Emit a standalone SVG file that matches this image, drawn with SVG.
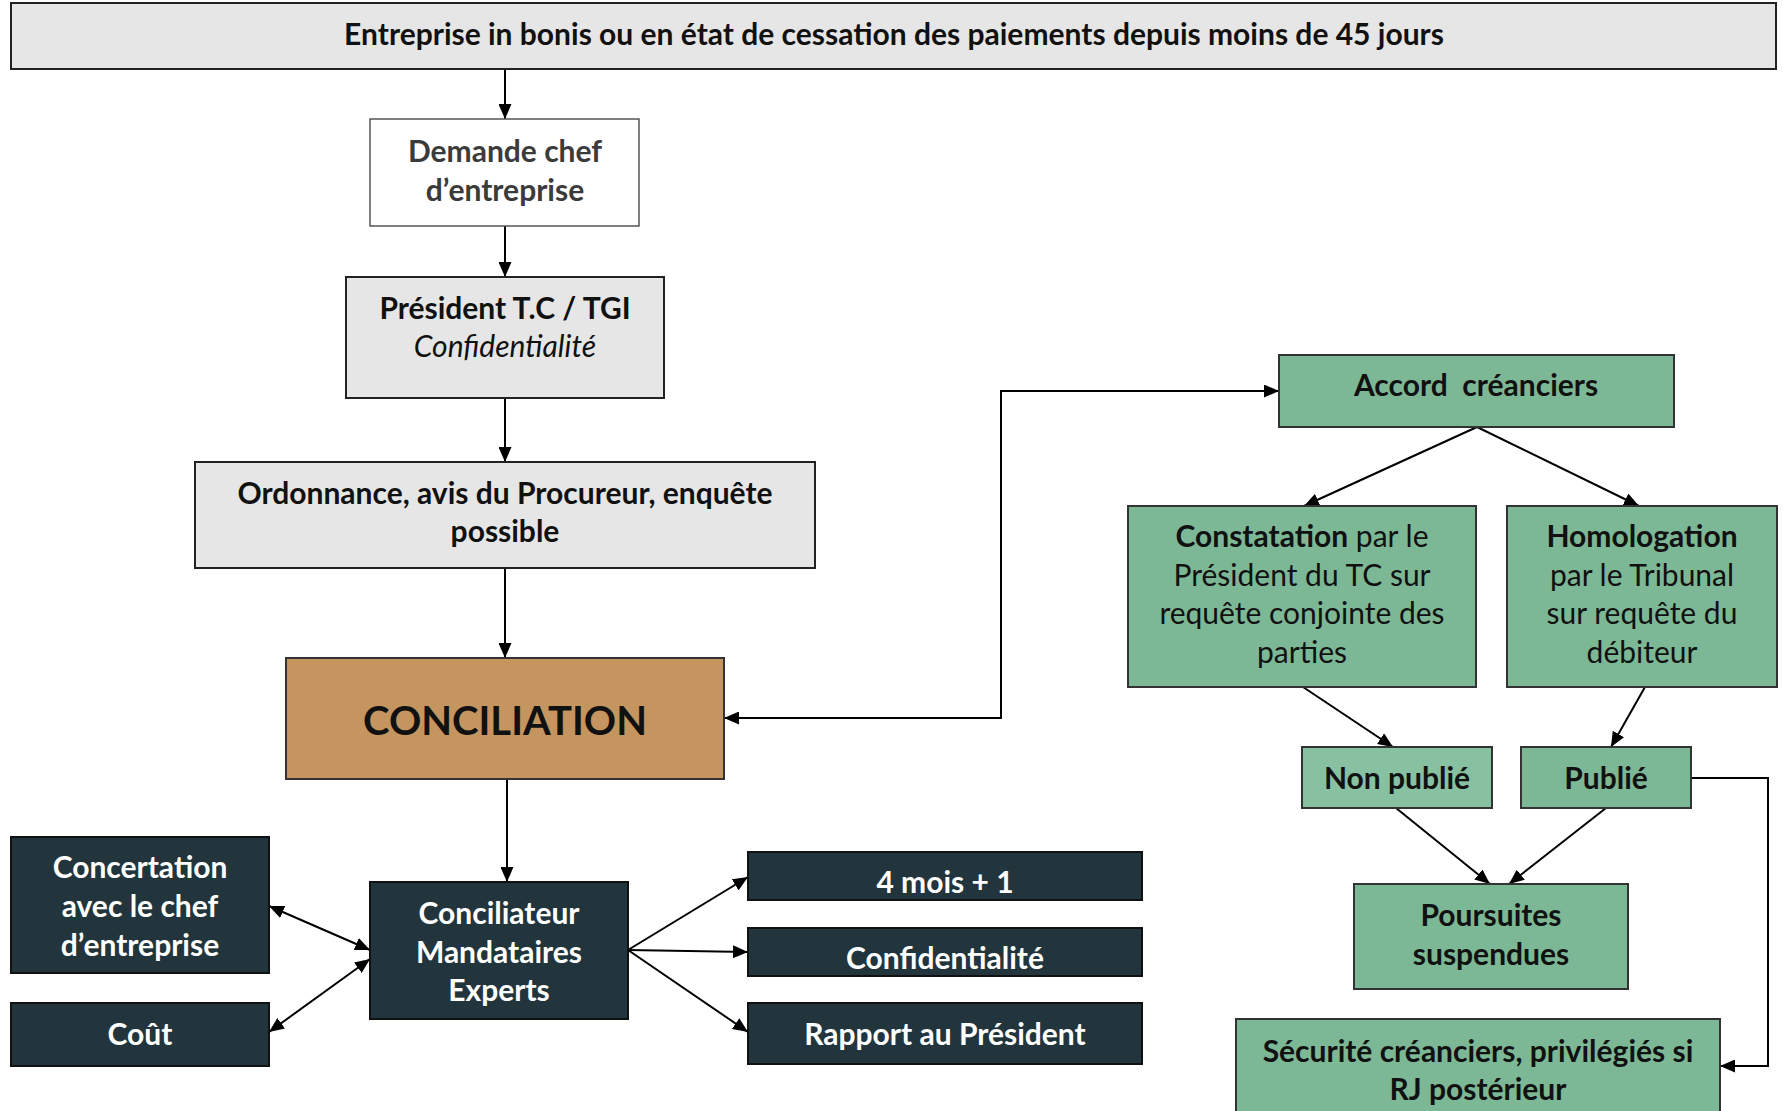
<svg xmlns="http://www.w3.org/2000/svg" width="1783" height="1111" viewBox="0 0 1783 1111">
  <style>
    text { font-family: Lato, "Open Sans", "Liberation Sans", sans-serif; text-anchor: middle; dominant-baseline: central; }
    .b { font-weight: 700; }
    .r { font-weight: 400; }
    .t28 { font-size: 30px; }
    .grey { fill: #e6e6e6; stroke: #222; stroke-width: 2; }
    .plain { fill: #ffffff; stroke: #555; stroke-width: 1.5; }
    .brown { fill: #c4955e; stroke: #333; stroke-width: 2; }
    .dark { fill: #22353d; stroke: #111; stroke-width: 2; }
    .green { fill: #7db896; stroke: #333; stroke-width: 2; }
    .lgreen { fill: #88c0a2; stroke: #333; stroke-width: 2; }
    .ink { fill: #111; }
    .white { fill: #ffffff; }
    .edge { fill: none; stroke: #000; stroke-width: 2; }
  </style>
  <defs>
    <marker id="arrow" viewBox="0 0 15 13" refX="15" refY="6.5" markerWidth="15" markerHeight="13" markerUnits="userSpaceOnUse" orient="auto-start-reverse">
      <path d="M0,0 L15,6.5 L0,13 z" fill="#000"/>
    </marker>
  </defs>

  <!-- connectors -->
  <g id="connectors">
    <path class="edge" d="M505,69 V119" marker-end="url(#arrow)"/>
    <path class="edge" d="M505,226 V277" marker-end="url(#arrow)"/>
    <path class="edge" d="M505,398 V462" marker-end="url(#arrow)"/>
    <path class="edge" d="M505,568 V658" marker-end="url(#arrow)"/>
    <path class="edge" d="M507,779 V882" marker-end="url(#arrow)"/>
    <path class="edge" d="M1279,391 H1001 V718 H724" marker-start="url(#arrow)" marker-end="url(#arrow)"/>
    <path class="edge" d="M1477,427 L1304,506" marker-end="url(#arrow)"/>
    <path class="edge" d="M1477,427 L1639,506" marker-end="url(#arrow)"/>
    <path class="edge" d="M1303,687 L1393,747" marker-end="url(#arrow)"/>
    <path class="edge" d="M1645,687 L1611,747" marker-end="url(#arrow)"/>
    <path class="edge" d="M1396,808 L1490,884" marker-end="url(#arrow)"/>
    <path class="edge" d="M1606,808 L1509,884" marker-end="url(#arrow)"/>
    <path class="edge" d="M1691,778 H1768 V1066 H1720" marker-end="url(#arrow)"/>
    <path class="edge" d="M269,906 L370,950" marker-start="url(#arrow)" marker-end="url(#arrow)"/>
    <path class="edge" d="M269,1032 L370,959" marker-start="url(#arrow)" marker-end="url(#arrow)"/>
    <path class="edge" d="M628,950 L748,877" marker-end="url(#arrow)"/>
    <path class="edge" d="M628,950 L748,952" marker-end="url(#arrow)"/>
    <path class="edge" d="M628,950 L748,1032" marker-end="url(#arrow)"/>
  </g>

  <g id="entreprise">
    <rect class="grey" x="11" y="3" width="1765" height="66"/>
    <text class="b ink" x="894" y="33" font-size="30">Entreprise in bonis ou en état de cessation des paiements depuis moins de 45 jours</text>
  </g>

  <g id="demande">
    <rect class="plain" x="370" y="119" width="269" height="107"/>
    <text class="b t28" fill="#3b3b3b" x="505" y="150">Demande chef</text>
    <text class="b t28" fill="#3b3b3b" x="505" y="189">d’entreprise</text>
  </g>

  <g id="president">
    <rect class="grey" x="346" y="277" width="318" height="121"/>
    <text class="b t28 ink" x="505" y="307">Président T.C / TGI</text>
    <text class="r t28 ink" x="505" y="345" font-style="italic">Confidentialité</text>
  </g>

  <g id="ordonnance">
    <rect class="grey" x="195" y="462" width="620" height="106"/>
    <text class="b t28 ink" x="505" y="492">Ordonnance, avis du Procureur, enquête</text>
    <text class="b t28 ink" x="505" y="530">possible</text>
  </g>

  <g id="conciliation">
    <rect class="brown" x="286" y="658" width="438" height="121"/>
    <text class="b ink" x="505" y="720" font-size="40">CONCILIATION</text>
  </g>

  <g id="conciliateur">
    <rect class="dark" x="370" y="882" width="258" height="137"/>
    <text class="b t28 white" x="499" y="912">Conciliateur</text>
    <text class="b t28 white" x="499" y="951">Mandataires</text>
    <text class="b t28 white" x="499" y="989">Experts</text>
  </g>

  <g id="concertation">
    <rect class="dark" x="11" y="837" width="258" height="136"/>
    <text class="b t28 white" x="140" y="866">Concertation</text>
    <text class="b t28 white" x="140" y="905">avec le chef</text>
    <text class="b t28 white" x="140" y="944">d’entreprise</text>
  </g>

  <g id="cout">
    <rect class="dark" x="11" y="1003" width="258" height="63"/>
    <text class="b t28 white" x="140" y="1033">Coût</text>
  </g>

  <g id="delai">
    <rect class="dark" x="748" y="852" width="394" height="48"/>
    <text class="b t28 white" x="945" y="881">4 mois + 1</text>
  </g>

  <g id="confidentialite">
    <rect class="dark" x="748" y="928" width="394" height="48"/>
    <text class="b t28 white" x="945" y="957">Confidentialité</text>
  </g>

  <g id="rapport">
    <rect class="dark" x="748" y="1003" width="394" height="61"/>
    <text class="b t28 white" x="945" y="1033">Rapport au Président</text>
  </g>

  <g id="accord">
    <rect class="green" x="1279" y="355" width="395" height="72"/>
    <text class="b t28 ink" x="1476" y="384" xml:space="preserve">Accord  créanciers</text>
  </g>

  <g id="constatation">
    <rect class="green" x="1128" y="506" width="348" height="181"/>
    <text class="t28 ink" x="1302" y="535"><tspan class="b">Constatation</tspan><tspan class="r"> par le</tspan></text>
    <text class="r t28 ink" x="1302" y="574">Président du TC sur</text>
    <text class="r t28 ink" x="1302" y="612">requête conjointe des</text>
    <text class="r t28 ink" x="1302" y="651">parties</text>
  </g>

  <g id="homologation">
    <rect class="green" x="1507" y="506" width="270" height="181"/>
    <text class="b t28 ink" x="1642" y="535">Homologation</text>
    <text class="r t28 ink" x="1642" y="574">par le Tribunal</text>
    <text class="r t28 ink" x="1642" y="612">sur requête du</text>
    <text class="r t28 ink" x="1642" y="651">débiteur</text>
  </g>

  <g id="non-publie">
    <rect class="lgreen" x="1302" y="747" width="190" height="61"/>
    <text class="b t28 ink" x="1397" y="777">Non publié</text>
  </g>

  <g id="publie">
    <rect class="green" x="1521" y="747" width="170" height="61"/>
    <text class="b t28 ink" x="1606" y="777">Publié</text>
  </g>

  <g id="poursuites">
    <rect class="green" x="1354" y="884" width="274" height="105"/>
    <text class="b t28 ink" x="1491" y="914">Poursuites</text>
    <text class="b t28 ink" x="1491" y="953">suspendues</text>
  </g>

  <g id="securite">
    <rect class="green" x="1236" y="1019" width="484" height="110"/>
    <text class="b t28 ink" x="1478" y="1050">Sécurité créanciers, privilégiés si</text>
    <text class="b t28 ink" x="1478" y="1088">RJ postérieur</text>
  </g>
</svg>
